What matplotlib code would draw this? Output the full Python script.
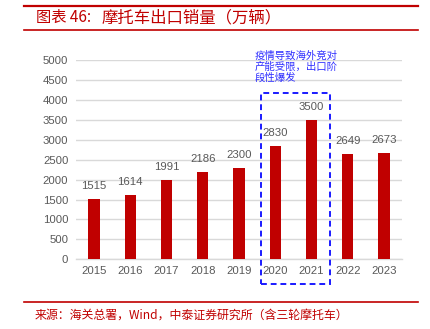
import matplotlib
matplotlib.use("Agg")
import matplotlib.pyplot as plt
from matplotlib.lines import Line2D
from matplotlib.patches import Rectangle
import matplotlib.transforms as mtransforms

# datos
years = ["2015", "2016", "2017", "2018", "2019", "2020", "2021", "2022", "2023"]
exports = [1515, 1614, 1991, 2186, 2300, 2830, 3500, 2649, 2673]
yticks = [0, 500, 1000, 1500, 2000, 2500, 3000, 3500, 4000, 4500, 5000]

title_a = "图表 46: "
title_b = "摩托车出口销量（万辆）"
note = "疫情导致海外竞对\n产能受限，出口阶\n段性爆发"
source = "来源：海关总署，Wind，中泰证券研究所（含三轮摩托车）"

plt.rcParams['font.family'] = ['Liberation Sans', 'Noto Sans CJK SC', 'DejaVu Sans']
cjk = ['Noto Sans CJK SC', 'DejaVu Sans']

red = "#C00000"
grey = "#595959"

W, H = 431, 329
fig = plt.figure(figsize=(W / 100, H / 100), dpi=100)
ax = fig.add_axes([76 / W, (H - 259.3) / H, 326 / W, 199.3 / H])

x = list(range(len(years)))
ax.bar(x, exports, width=0.31, color=red, zorder=3)
for xi, v in zip(x, exports):
    ax.annotate(str(v), (xi, v), xytext=(0, 9.4), textcoords="offset points",
                ha="center", va="center", fontsize=8.2, color=grey)

ax.set_xlim(-0.5, len(years) - 0.5)
ax.set_ylim(0, 5000)
ax.set_yticks(yticks)
ax.set_xticks(x)
ax.set_xticklabels(years)
ax.tick_params(axis="both", length=0, labelsize=8.2, labelcolor=grey)
ax.tick_params(axis="x", pad=5)
ax.tick_params(axis="y", pad=5.5)
ax.grid(axis="y", color="#D9D9D9", linewidth=1, zorder=0)
for s in ["top", "right", "left"]:
    ax.spines[s].set_visible(False)
ax.spines["bottom"].set_color("#D9D9D9")
ax.spines["bottom"].set_linewidth(1)

# recuadro discontinuo 2020-2021
i20 = years.index("2020")
i21 = years.index("2021")
trans = mtransforms.blended_transform_factory(ax.transData, ax.transAxes)
box = Rectangle((i20 - 0.4, -0.124), (i21 + 0.52) - (i20 - 0.4), 0.957,
                transform=trans, fill=False, edgecolor="#1A1AFF",
                linestyle=(0, (3, 2)), linewidth=1.4, clip_on=False, zorder=4)
ax.add_patch(box)
ax.text(i20 - 0.56, 1.045, note, transform=trans, ha="left", va="top",
        fontsize=7.5, color="#3030FF", family=cjk, linespacing=1.1)

# cabecera y pie
fig.add_artist(Line2D([24 / W, 418 / W], [1 - 5.7 / H] * 2, color=red, linewidth=1.6))
fig.add_artist(Line2D([24 / W, 418 / W], [1 - 30 / H] * 2, color=red, linewidth=1.2))
fig.text(36 / W, 1 - 17.5 / H, title_a, ha="left", va="center", fontsize=11,
         color=red, family=cjk)
fig.text(102 / W, 1 - 17.5 / H, title_b, ha="left", va="center", fontsize=11.8,
         color=red, family=cjk)
fig.add_artist(Line2D([24 / W, 418 / W], [1 - 302.3 / H] * 2, color=red, linewidth=1.2))
fig.text(35 / W, 1 - 315 / H, source, ha="left", va="center", fontsize=8.6,
         color=red, family=cjk)

fig.savefig("out.png", dpi=100)
